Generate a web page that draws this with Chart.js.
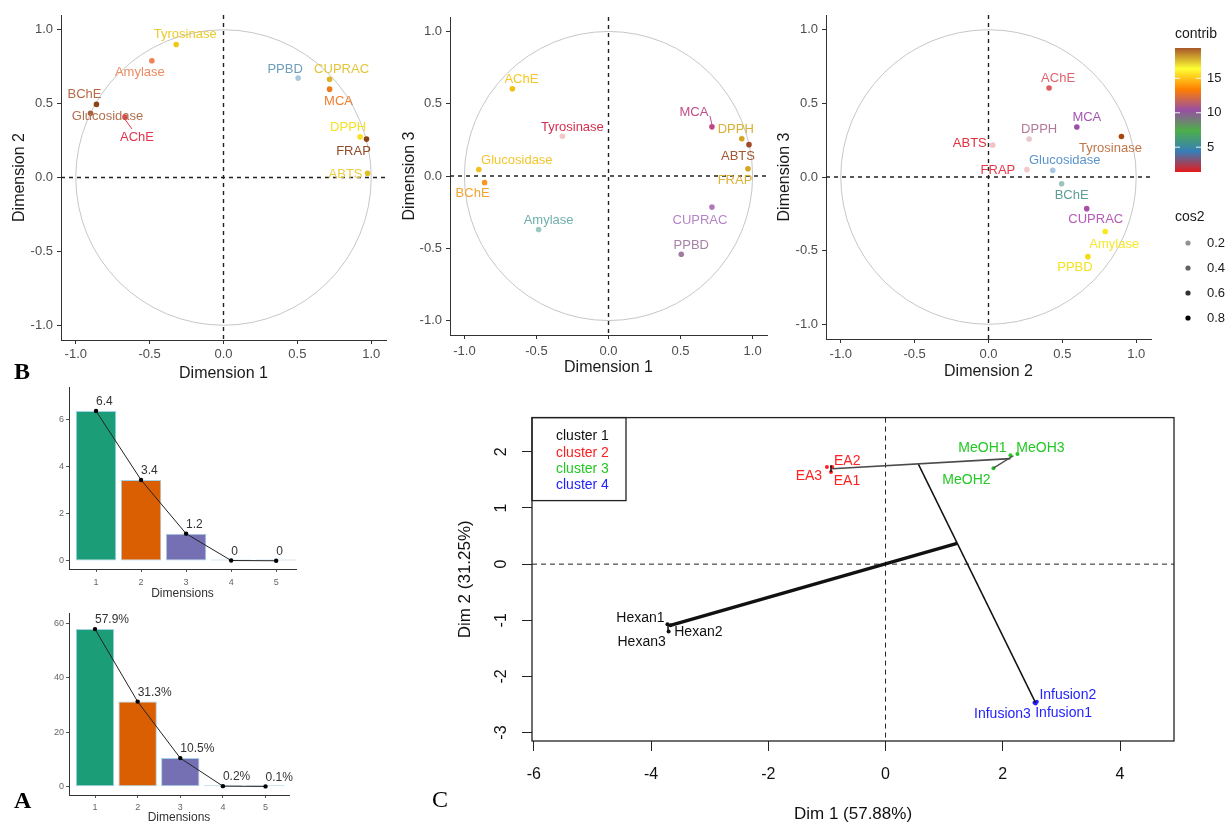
<!DOCTYPE html>
<html>
<head>
<meta charset="utf-8">
<script src="https://cdn.jsdelivr.net/npm/chart.js@4.4.1/dist/chart.umd.min.js"></script>
<style>
  body { margin: 0; background: #fff; width: 1228px; height: 825px; position: relative; overflow: hidden; }
  canvas { position: absolute; }
  .tag { position: absolute; font-family: "Liberation Serif", "DejaVu Serif", serif; font-size: 24px; line-height: 24px; color: #000; }
</style>
</head>
<body>
<canvas id="pca12" width="400" height="392" style="left:0;top:0"></canvas>
<canvas id="pca13" width="380" height="392" style="left:400px;top:0"></canvas>
<canvas id="pca23" width="458" height="392" style="left:770px;top:0"></canvas>
<canvas id="eig" width="305" height="222" style="left:0;top:380px"></canvas>
<canvas id="pct" width="300" height="225" style="left:0;top:600px"></canvas>
<canvas id="clust" width="808" height="430" style="left:420px;top:395px"></canvas>
<div class="tag" style="left:14px;top:359px;font-weight:bold">B</div>
<div class="tag" style="left:14px;top:788px;font-weight:bold">A</div>
<div class="tag" style="left:432px;top:787px">C</div>
<script>
// variables of the PCA (correlation circles)
const variables = ["Tyrosinase", "Amylase", "BChE", "Glucosidase", "AChE", "PPBD", "CUPRAC", "MCA", "DPPH", "FRAP", "ABTS"];
const dim1 = [-0.32, -0.485, -0.86, -0.90, -0.667, 0.505, 0.718, 0.718, 0.925, 0.968, 0.975];
const dim2 = [0.90, 0.79, 0.495, 0.435, 0.41, 0.673, 0.665, 0.598, 0.275, 0.26, 0.029];
const dim3 = [0.275, -0.37, -0.046, 0.045, 0.604, -0.541, -0.215, 0.34, 0.258, 0.05, 0.217];

// scree plots
const dims = [1, 2, 3, 4, 5];
const eigenvalues = [6.37, 3.44, 1.16, 0.02, 0.01];
const variancePct = [57.88, 31.25, 10.5, 0.2, 0.1];

// individuals map with clusters
const samples = ["Hexan1", "Hexan2", "Hexan3", "EA1", "EA2", "EA3", "MeOH1", "MeOH2", "MeOH3", "Infusion1", "Infusion2", "Infusion3"];
const sampleDim1 = [-3.72, -3.67, -3.70, -0.93, -0.91, -1.00, 2.13, 1.84, 2.25, 2.56, 2.58, 2.54];
const sampleDim2 = [-1.07, -1.09, -1.20, 1.64, 1.73, 1.73, 1.94, 1.71, 1.96, -2.48, -2.45, -2.47];
const sampleCluster = [1, 1, 1, 2, 2, 2, 3, 3, 3, 4, 4, 4];
const clusterNames = ["cluster 1", "cluster 2", "cluster 3", "cluster 4"];
const treeX1 = [-0.91, 1.84, 0.56, -3.67, -0.93, -3.71];
const treeY1 = [1.70, 1.71, 1.78, -1.09, 1.64, -1.05];
const treeX2 = [2.13, 2.18, 2.56, 1.22, -0.93, -3.71];
const treeY2 = [1.88, 1.93, -2.47, 0.37, 1.76, -1.20];

// legend of the correlation circles
const contribTicks = [5, 10, 15];
const contribRange = [1.4, 19.4];
const cos2Ticks = [0.2, 0.4, 0.6, 0.8];

// ---- styles ----
const FONT = "'Liberation Sans', Arial, Helvetica, sans-serif";
Chart.defaults.font.family = FONT;
Chart.defaults.animation = false;
Chart.defaults.plugins.legend.display = false;
Chart.defaults.plugins.tooltip.enabled = false;

const set1 = ["#E41A1C", "#377EB8", "#4DAF4A", "#984EA3", "#FF7F00", "#FFFF33", "#A65628"];
const clusterColors = ["#111111", "#FF2020", "#22C822", "#2222FF"];
const barColors = ["#1B9E77", "#D95F02", "#7570B3", "#A6D0E6", "#A6D0E6"];

const look12 = {
  point: ["#F0C818", "#F08055", "#8A4418", "#A8603C", "#E04050", "#A9C8DC", "#DDB52A", "#EE7A1E", "#F8E020", "#8A4418", "#E0C020"],
  label: ["#EBCB2B", "#EE8B62", "#B86A45", "#B3704E", "#E5334B", "#6E9FBA", "#E3C43A", "#EE8030", "#F5E12A", "#8F4B2A", "#EBCF45"],
  offset: [[9, -10], [-12, 12], [-12, -10], [17, 3], [12, 20], [-13, -9], [12, -10], [9, 12], [-12, -9], [-13, 12], [-22, 1]],
  leaders: {4: [-1, 1, 7, 12]}
};
const look13 = {
  point: ["#F2C8C6", "#9CC8C4", "#F09A20", "#F2C020", "#F2C010", "#A07CA0", "#B07AB8", "#C04880", "#D4A520", "#D4A520", "#A04A28"],
  label: ["#D63050", "#6FB0AC", "#F3A234", "#F2C630", "#F5C823", "#A683A6", "#B683C6", "#C0508A", "#DAB035", "#DDB23A", "#A55530"],
  offset: [[10, -9], [10, -9], [-12, 11], [38, -9], [9, -9], [10, -9], [-12, 13], [-18, -14], [-6, -9], [-13, 12], [-11, 12]],
  leaders: {7: [-2, -11, 0, -2]}
};
const look23 = {
  point: ["#A4480E", "#F8E81C", "#9CC4BE", "#A8C6E4", "#DC5C60", "#F5DC10", "#A850A8", "#9C50A8", "#E8C8CC", "#F2CACA", "#F2C4C4"],
  label: ["#C0764A", "#F5E830", "#5E9E93", "#5A94CC", "#E0646E", "#F5E220", "#B85AB8", "#A458B4", "#B27A9A", "#E8394A", "#E5303F"],
  offset: [[-11, 12], [9, 13], [10, 12], [12, -10], [9, -10], [-13, 11], [9, 11], [10, -10], [10, -10], [-29, 1], [-23, -2]],
  leaders: {}
};
const sampleOffsets = [[-27, -6], [28, 7], [-27, 11], [16, 9], [15, -6], [-18, 9], [-28, -7], [-27, 12], [23, -6], [28, 10], [31, -7], [-32, 11]];
const treeWidths = [1.6, 1.4, 1.5, 3.5, 1.5, 1.5];
const treeColors = ["#4a4a4a", "#4a4a4a", "#111", "#111", "#111", "#111"];

// ---- plugins ----
const guides = {
  id: 'guides',
  beforeDatasetsDraw(chart, args, opts) {
    const {ctx, chartArea: a, scales: {x, y}} = chart;
    const x0 = x.getPixelForValue(0), y0 = y.getPixelForValue(0);
    ctx.save();
    if (opts.circle) {
      ctx.strokeStyle = '#C6C6C6';
      ctx.lineWidth = 1;
      ctx.beginPath();
      ctx.ellipse(x0, y0, x.getPixelForValue(1) - x0, y0 - y.getPixelForValue(1), 0, 0, Math.PI * 2);
      ctx.stroke();
    }
    ctx.strokeStyle = opts.color || '#222';
    ctx.lineWidth = opts.width || 1.3;
    ctx.setLineDash(opts.dash || [4, 4]);
    ctx.beginPath();
    ctx.moveTo(x0, a.top); ctx.lineTo(x0, a.bottom);
    ctx.moveTo(a.left, y0); ctx.lineTo(a.right, y0);
    ctx.stroke();
    ctx.restore();
  }
};

const pointLabels = {
  id: 'pointLabels',
  afterDatasetsDraw(chart) {
    const ctx = chart.ctx;
    chart.data.datasets.forEach((ds, i) => {
      if (!ds.pointLabels) return;
      const meta = chart.getDatasetMeta(i);
      ctx.save();
      ctx.font = ds.labelFont;
      ctx.textAlign = ds.labelAlign || 'center';
      ctx.textBaseline = 'middle';
      meta.data.forEach((el, j) => {
        const off = ds.labelOffsets[j];
        const color = Array.isArray(ds.labelColors) ? ds.labelColors[j] : ds.labelColors;
        const lead = ds.leaders && ds.leaders[j];
        if (lead) {
          ctx.strokeStyle = color;
          ctx.lineWidth = 1;
          ctx.beginPath();
          ctx.moveTo(el.x + lead[0], el.y + lead[1]);
          ctx.lineTo(el.x + lead[2], el.y + lead[3]);
          ctx.stroke();
        }
        ctx.fillStyle = color;
        ctx.fillText(ds.pointLabels[j], el.x + off[0], el.y + off[1]);
      });
      ctx.restore();
    });
  }
};

const contribLegend = {
  id: 'contribLegend',
  afterDraw(chart) {
    const ctx = chart.ctx;
    const bx = 405, bw = 26, top = 48, bottom = 172;
    const toY = v => bottom - (v - contribRange[0]) / (contribRange[1] - contribRange[0]) * (bottom - top);
    ctx.save();
    ctx.fillStyle = '#1A1A1A';
    ctx.font = '14px ' + FONT;
    ctx.textBaseline = 'middle';
    ctx.fillText('contrib', bx, 34);
    const g = ctx.createLinearGradient(0, bottom, 0, top);
    set1.forEach((c, i) => g.addColorStop(i / (set1.length - 1), c));
    ctx.fillStyle = g;
    ctx.fillRect(bx, top, bw, bottom - top);
    ctx.font = '13px ' + FONT;
    contribTicks.forEach(v => {
      const yy = toY(v);
      ctx.strokeStyle = 'rgba(255,255,255,0.9)';
      ctx.lineWidth = 1;
      ctx.beginPath();
      ctx.moveTo(bx, yy); ctx.lineTo(bx + 5, yy);
      ctx.moveTo(bx + bw - 5, yy); ctx.lineTo(bx + bw, yy);
      ctx.stroke();
      ctx.fillStyle = '#1A1A1A';
      ctx.fillText(String(v), bx + 32, yy);
    });
    ctx.font = '14px ' + FONT;
    ctx.fillText('cos2', bx, 217);
    ctx.font = '13px ' + FONT;
    cos2Ticks.forEach((v, i) => {
      const yy = 243 + i * 25;
      ctx.fillStyle = 'rgba(0,0,0,' + (0.25 + v) * 0.95 + ')';
      ctx.beginPath();
      ctx.arc(bx + 13, yy, 2.6, 0, Math.PI * 2);
      ctx.fill();
      ctx.fillStyle = '#1A1A1A';
      ctx.fillText(v.toFixed(1), bx + 32, yy);
    });
    ctx.restore();
  }
};

const clusterBox = {
  id: 'clusterBox',
  afterDraw(chart) {
    const {ctx, chartArea: a} = chart;
    ctx.save();
    ctx.strokeStyle = '#222';
    ctx.lineWidth = 1.3;
    ctx.strokeRect(a.left, a.top, a.right - a.left, a.bottom - a.top);
    ctx.strokeRect(a.left, a.top, 94, 83);
    ctx.font = '14px ' + FONT;
    ctx.textBaseline = 'middle';
    clusterNames.forEach((n, i) => {
      ctx.fillStyle = clusterColors[i];
      ctx.fillText(n, a.left + 24, a.top + 19 + i * 16.2);
    });
    ctx.restore();
  }
};

// ---- correlation circles ----
function circleScale(title, size, horizontal, tickPad, titlePad) {
  return {
    type: 'linear', min: -1.1, max: 1.1,
    afterFit: s => { if (horizontal) s.height = size; else s.width = size; },
    border: {display: true, color: '#333', width: 1},
    grid: {drawOnChartArea: false, drawTicks: true, tickLength: 4, color: '#333'},
    ticks: {stepSize: 0.5, includeBounds: false, padding: tickPad, color: '#4D4D4D', font: {size: 13},
            maxRotation: 0, callback: v => v.toFixed(1)},
    title: {display: true, text: title, color: '#1A1A1A', font: {size: 16}, padding: titlePad}
  };
}

function circleChart(id, xs, ys, xTitle, yTitle, look, geo, extra) {
  return new Chart(document.getElementById(id), {
    type: 'scatter',
    data: {datasets: [{
      data: variables.map((v, i) => ({x: xs[i], y: ys[i]})),
      pointRadius: 2.8, pointBorderWidth: 0, pointBackgroundColor: look.point,
      pointLabels: variables, labelColors: look.label, labelOffsets: look.offset,
      leaders: look.leaders, labelFont: '13px ' + FONT
    }]},
    options: {
      responsive: false,
      layout: {padding: geo.pad},
      scales: {
        x: circleScale(xTitle, geo.xh, true, geo.xTick, {top: 0, bottom: geo.xTitle}),
        y: circleScale(yTitle, geo.yw, false, 4, {top: geo.yTitle, bottom: 0})
      },
      plugins: {guides: {circle: true, dash: [4, 4], width: 1.4, color: '#222'}}
    },
    plugins: [guides, pointLabels].concat(extra || [])
  });
}

circleChart('pca12', dim1, dim2, 'Dimension 1', 'Dimension 2', look12,
  {pad: {left: 0, top: 15, right: 14, bottom: 0}, xh: 52, yw: 61, xTick: 3, xTitle: 8.4, yTitle: 10.4});
circleChart('pca13', dim1, dim3, 'Dimension 1', 'Dimension 3', look13,
  {pad: {left: 0, top: 17, right: 13, bottom: 0}, xh: 57, yw: 50, xTick: 4.5, xTitle: 14.4, yTitle: 0});
circleChart('pca23', dim2, dim3, 'Dimension 2', 'Dimension 3', look23,
  {pad: {left: 0, top: 15, right: 77, bottom: 0}, xh: 53, yw: 56, xTick: 3.5, xTitle: 10.7, yTitle: 5.4}, [contribLegend]);

// ---- scree plots ----
function screeChart(id, values, fmt, geo) {
  return new Chart(document.getElementById(id), {
    type: 'bar',
    data: {datasets: [
      {type: 'line', data: dims.map((d, i) => ({x: d, y: values[i]})), borderColor: '#222', borderWidth: 1,
       pointRadius: 2.2, pointBackgroundColor: '#000', pointBorderWidth: 0,
       pointLabels: values.map(fmt), labelColors: '#333', labelOffsets: dims.map(() => [0, -9]),
       labelAlign: 'left', labelFont: '12px ' + FONT},
      {data: dims.map((d, i) => ({x: d, y: values[i]})),
       backgroundColor: barColors, borderColor: '#A6D0E6', borderWidth: 1, borderSkipped: false,
       minBarLength: 1.5, barPercentage: 0.9, categoryPercentage: 1}
    ]},
    options: {
      responsive: false,
      layout: {padding: geo.pad},
      scales: {
        x: {type: 'linear', min: geo.xr[0], max: geo.xr[1], offset: false,
            afterFit: s => { s.height = geo.xh; },
            border: {display: true, color: '#333', width: 1},
            grid: {offset: false, drawOnChartArea: false, tickLength: 3, color: '#555'},
            ticks: {stepSize: 1, includeBounds: false, padding: geo.xTick, color: '#666', font: {size: 9}, maxRotation: 0},
            title: {display: true, text: 'Dimensions', color: '#333', font: {size: 12}, padding: {top: 0, bottom: geo.xTitle}}},
        y: {type: 'linear', min: geo.yr[0], max: geo.yr[1],
            afterFit: s => { s.width = 69; },
            border: {display: true, color: '#333', width: 1},
            grid: {drawOnChartArea: false, tickLength: 3, color: '#555'},
            ticks: {stepSize: geo.step, includeBounds: false, padding: 2, color: '#666', font: {size: 9}}}
      }
    },
    plugins: [pointLabels]
  });
}

screeChart('eig', eigenvalues, v => String(Math.round(v * 10) / 10),
  {pad: {left: 0, top: 7, right: 9, bottom: 0}, xr: [0.4, 5.44], yr: [-0.34, 7.37], step: 2, xh: 33, xTick: 5, xTitle: 0.8});
screeChart('pct', variancePct, v => v.toFixed(1) + '%',
  {pad: {left: 0, top: 13, right: 11, bottom: 0}, xr: [0.39, 5.55], yr: [-3.05, 63.8], step: 20, xh: 30, xTick: 4.5, xTitle: 0});

// ---- cluster map ----
const clusterSets = clusterNames.map((name, c) => {
  const idx = samples.map((s, i) => i).filter(i => sampleCluster[i] === c + 1);
  return {
    label: name,
    data: idx.map(i => ({x: sampleDim1[i], y: sampleDim2[i]})),
    pointRadius: 2, pointBorderWidth: 0, pointBackgroundColor: clusterColors[c],
    pointLabels: idx.map(i => samples[i]), labelColors: clusterColors[c],
    labelOffsets: idx.map(i => sampleOffsets[i]), labelFont: '14px ' + FONT
  };
});
const treeSets = treeX1.map((x1, i) => ({
  type: 'line',
  data: [{x: x1, y: treeY1[i]}, {x: treeX2[i], y: treeY2[i]}],
  borderColor: treeColors[i], borderWidth: treeWidths[i], pointRadius: 0
}));

new Chart(document.getElementById('clust'), {
  type: 'scatter',
  data: {datasets: treeSets.concat(clusterSets)},
  options: {
    responsive: false,
    layout: {padding: {left: 0, top: 9, right: 54, bottom: 0}},
    scales: {
      x: {type: 'linear', min: -6.03, max: 4.92,
          afterFit: s => { s.height = 84; },
          border: {display: false},
          grid: {drawOnChartArea: false, tickLength: 10, color: '#222'},
          ticks: {stepSize: 2, includeBounds: false, padding: 14, color: '#111', font: {size: 16}, maxRotation: 0},
          title: {display: true, text: 'Dim 1 (57.88%)', color: '#111', font: {size: 17}, padding: {top: 0, bottom: 0}}},
      y: {type: 'linear', min: -3.15, max: 2.61,
          afterFit: s => { s.width = 112; },
          border: {display: false},
          grid: {drawOnChartArea: false, tickLength: 10, color: '#222'},
          ticks: {stepSize: 1, includeBounds: false, padding: 13, color: '#111', font: {size: 16},
                  minRotation: 90, maxRotation: 90, crossAlign: 'center'},
          title: {display: true, text: 'Dim 2 (31.25%)', color: '#111', font: {size: 17}, padding: {top: 35, bottom: 0}}}
    },
    plugins: {guides: {circle: false, dash: [5, 4], width: 1, color: '#222'}}
  },
  plugins: [guides, pointLabels, clusterBox]
});
</script>
</body>
</html>
